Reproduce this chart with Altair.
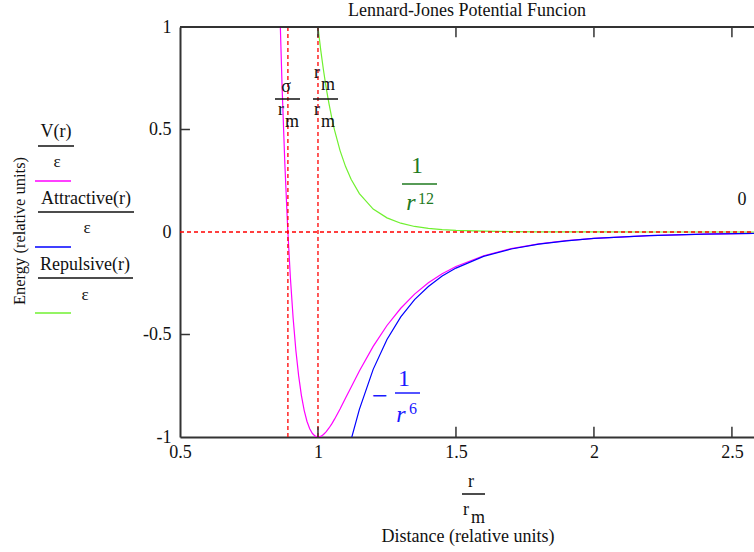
import altair as alt
import pandas as pd

# ---- data (r in units of r_m, energies in units of epsilon)
r_vals = [0.85, 0.86, 0.87, 0.88, 0.89, 0.90, 0.91, 0.92, 0.93, 0.94, 0.95, 0.96, 0.97, 0.98, 0.99,
          1.00, 1.01, 1.02, 1.03, 1.04, 1.05, 1.06, 1.08, 1.10, 1.12, 1.15, 1.20, 1.25, 1.30, 1.35,
          1.40, 1.45, 1.50, 1.60, 1.70, 1.80, 1.90, 2.00, 2.20, 2.40, 2.60]
v_vals = [1.727, 1.166, 0.706, 0.330, 0.024, -0.223, -0.421, -0.579, -0.702, -0.798, -0.870, -0.923,
          -0.960, -0.983, -0.996, -1.000, -0.997, -0.988, -0.974, -0.956, -0.936, -0.913, -0.863,
          -0.810, -0.757, -0.678, -0.558, -0.456, -0.372, -0.303, -0.248, -0.204, -0.168, -0.116,
          -0.081, -0.058, -0.042, -0.031, -0.018, -0.010, -0.006]
rep_vals = [7.030, 6.109, 5.318, 4.637, 4.049, 3.541, 3.101, 2.720, 2.389, 2.101, 1.851, 1.632, 1.441,
            1.274, 1.128, 1.000, 0.887, 0.789, 0.701, 0.625, 0.557, 0.497, 0.397, 0.319, 0.257, 0.187,
            0.112, 0.069, 0.043, 0.027, 0.018, 0.012, 0.008, 0.004, 0.002, 0.001, 0.0005, 0.0002,
            0.0001, 0.00003, 0.00001]
att_vals = [-5.303, -4.943, -4.612, -4.307, -4.024, -3.763, -3.522, -3.298, -3.091, -2.899, -2.721,
            -2.555, -2.401, -2.258, -2.124, -2.000, -1.884, -1.776, -1.675, -1.581, -1.492, -1.410,
            -1.260, -1.129, -1.013, -0.865, -0.670, -0.524, -0.414, -0.330, -0.266, -0.215, -0.176,
            -0.119, -0.083, -0.059, -0.043, -0.031, -0.018, -0.010, -0.006]

series_names = ["V", "Attractive", "Repulsive"]
series_colors = ["#ff00ff", "#0000ff", "#70f030"]

sigma_over_rm = 0.891
rm_over_rm = 1.0
x_ticks = [0.5, 1, 1.5, 2, 2.5]
y_ticks = [-1, -0.5, 0, 0.5, 1]

X_MIN, X_MAX = 0.5, 2.58
Y_MIN, Y_MAX = -1, 1
W, H = 574, 410
SERIF = "Liberation Serif"

rows = []
for name, vals in zip(series_names, [v_vals, att_vals, rep_vals]):
    for r, v in zip(r_vals, vals):
        rows.append({"r": r, "val": v, "series": name})
curves_df = pd.DataFrame(rows)

xs = alt.Scale(domain=[X_MIN, X_MAX], nice=False, zero=False)
ys = alt.Scale(domain=[Y_MIN, Y_MAX], nice=False, zero=False)

curves = alt.Chart(curves_df).mark_line(clip=True, strokeWidth=1.2).encode(
    x=alt.X("r:Q", scale=xs,
            axis=alt.Axis(values=x_ticks, title=None, grid=False, ticks=False,
                          labelFont=SERIF, labelFontSize=18, labelColor="#111",
                          labelPadding=6, labelOverlap=False, labelFlush=False,
                          domainColor="#333", domainWidth=2, labelExpr="'' + datum.value")),
    y=alt.Y("val:Q", scale=ys,
            axis=alt.Axis(values=y_ticks, title=None, grid=False, ticks=False,
                          labelFont=SERIF, labelFontSize=18, labelColor="#111",
                          labelPadding=9, labelOverlap=False, labelFlush=False,
                          domainColor="#333", domainWidth=2, labelExpr="'' + datum.value")),
    color=alt.Color("series:N", scale=alt.Scale(domain=series_names, range=series_colors), legend=None),
    detail="series:N",
)

# top border
top_df = pd.DataFrame({"x": [X_MIN], "x2": [X_MAX], "y": [Y_MAX]})
top = alt.Chart(top_df).mark_rule(color="#333", strokeWidth=2).encode(
    x=alt.X("x:Q", scale=xs), x2="x2:Q", y=alt.Y("y:Q", scale=ys))

# inward ticks
tick_rows = []
for t in x_ticks[1:]:
    tick_rows.append({"x": t, "x2": t, "y": Y_MIN, "y2": Y_MIN + 0.05})
    tick_rows.append({"x": t, "x2": t, "y": Y_MAX, "y2": Y_MAX - 0.05})
for t in [0.5, -0.5]:
    tick_rows.append({"x": X_MIN, "x2": X_MIN + 0.036, "y": t, "y2": t})
ticks = alt.Chart(pd.DataFrame(tick_rows)).mark_rule(color="#333", strokeWidth=1.5).encode(
    x=alt.X("x:Q", scale=xs), x2="x2:Q", y=alt.Y("y:Q", scale=ys), y2="y2:Q")

# red dashed markers
marker_df = pd.DataFrame({
    "x": [sigma_over_rm, rm_over_rm, X_MIN],
    "x2": [sigma_over_rm, rm_over_rm, X_MAX],
    "y": [Y_MIN, Y_MIN, 0],
    "y2": [Y_MAX, Y_MAX, 0],
})
markers = alt.Chart(marker_df).mark_rule(color="#ff0000", strokeWidth=1.3, strokeDash=[4, 3]).encode(
    x=alt.X("x:Q", scale=xs), x2="x2:Q", y=alt.Y("y:Q", scale=ys), y2="y2:Q")

# decorative segments (pixel positions relative to plot origin)
seg_df = pd.DataFrame([
    {"px": -142, "px2": -106, "py": 119, "c": "#111"},
    {"px": -142, "px2": -46, "py": 185, "c": "#111"},
    {"px": -142, "px2": -47, "py": 251, "c": "#111"},
    {"px": -145, "px2": -109, "py": 154, "c": "#ff00ff"},
    {"px": -145, "px2": -109, "py": 220, "c": "#0000ff"},
    {"px": -145, "px2": -109, "py": 286, "c": "#70f030"},
    {"px": 95, "px2": 120, "py": 72, "c": "#111"},
    {"px": 133, "px2": 158, "py": 72, "c": "#111"},
    {"px": 282, "px2": 305, "py": 467, "c": "#111"},
    {"px": 222, "px2": 257, "py": 157, "c": "#1f7a1f"},
    {"px": 215, "px2": 240, "py": 366, "c": "#1a1aff"},
])
segs = alt.Chart(seg_df).mark_rule(strokeWidth=1.5).encode(
    x=alt.X("px:Q", scale=None), x2="px2:Q", y=alt.Y("py:Q", scale=None),
    color=alt.Color("c:N", scale=None))

# plain serif texts
txt_df = pd.DataFrame([
    {"t": "V(r)", "px": -124, "py": 105, "s": 18, "c": "#111", "a": 0},
    {"t": "ε", "px": -123, "py": 135, "s": 17, "c": "#111", "a": 0},
    {"t": "Attractive(r)", "px": -94, "py": 172, "s": 18, "c": "#111", "a": 0},
    {"t": "ε", "px": -93, "py": 201, "s": 17, "c": "#111", "a": 0},
    {"t": "Repulsive(r)", "px": -95, "py": 238, "s": 18, "c": "#111", "a": 0},
    {"t": "ε", "px": -95, "py": 268, "s": 17, "c": "#111", "a": 0},
    {"t": "Energy (relative units)", "px": -160, "py": 204, "s": 16.5, "c": "#111", "a": 270},
    {"t": "σ", "px": 106, "py": 60, "s": 18, "c": "#111", "a": 0},
    {"t": "r", "px": 101, "py": 83, "s": 18, "c": "#111", "a": 0},
    {"t": "m", "px": 112, "py": 95, "s": 18, "c": "#111", "a": 0},
    {"t": "r", "px": 137, "py": 46, "s": 18, "c": "#111", "a": 0},
    {"t": "m", "px": 148, "py": 58, "s": 18, "c": "#111", "a": 0},
    {"t": "r", "px": 137, "py": 83, "s": 18, "c": "#111", "a": 0},
    {"t": "m", "px": 148, "py": 95, "s": 18, "c": "#111", "a": 0},
    {"t": "0", "px": 562, "py": 173, "s": 18, "c": "#111", "a": 0},
    {"t": "r", "px": 291, "py": 455, "s": 18, "c": "#111", "a": 0},
    {"t": "r", "px": 286, "py": 483, "s": 18, "c": "#111", "a": 0},
    {"t": "m", "px": 298, "py": 491, "s": 18, "c": "#111", "a": 0},
    {"t": "Distance (relative units)", "px": 288, "py": 510, "s": 18, "c": "#111", "a": 0},
    {"t": "1", "px": 237, "py": 139, "s": 24, "c": "#1f7a1f", "a": 0},
    {"t": "12", "px": 246, "py": 172, "s": 16, "c": "#1f7a1f", "a": 0},
    {"t": "−", "px": 200, "py": 370, "s": 28, "c": "#1a1aff", "a": 0},
    {"t": "1", "px": 224, "py": 352, "s": 24, "c": "#1a1aff", "a": 0},
    {"t": "6", "px": 233, "py": 382, "s": 16, "c": "#1a1aff", "a": 0},
])
texts = alt.Chart(txt_df).mark_text(font=SERIF, baseline="middle", align="center").encode(
    x=alt.X("px:Q", scale=None), y=alt.Y("py:Q", scale=None), text="t:N",
    size=alt.Size("s:Q", scale=None), color=alt.Color("c:N", scale=None),
    angle=alt.Angle("a:Q", scale=None))

# italic math r
ital_df = pd.DataFrame([
    {"t": "r", "px": 231, "py": 176, "s": 24, "c": "#1f7a1f"},
    {"t": "r", "px": 221, "py": 388, "s": 24, "c": "#1a1aff"},
])
ital = alt.Chart(ital_df).mark_text(font=SERIF, fontStyle="italic", baseline="middle", align="center").encode(
    x=alt.X("px:Q", scale=None), y=alt.Y("py:Q", scale=None), text="t:N",
    size=alt.Size("s:Q", scale=None), color=alt.Color("c:N", scale=None))

title_df = pd.DataFrame({"t": ["Lennard-Jones Potential Funcion"], "px": [287], "py": [-16]})
title = alt.Chart(title_df).mark_text(font=SERIF, fontSize=18, baseline="middle",
                                      align="center", color="#111").encode(
    x=alt.X("px:Q", scale=None), y=alt.Y("py:Q", scale=None), text="t:N")

chart = alt.layer(curves, markers, top, ticks, segs, texts, ital, title).resolve_scale(
    color="independent", size="independent"
).properties(
    width=W, height=H,
    autosize=alt.AutoSizeParams(type="none"),
    padding={"left": 180, "top": 27, "right": 0, "bottom": 115},
).configure_view(stroke=None).configure(background="white")

chart.save("out.html", embed_options={"renderer": "svg", "actions": False})
